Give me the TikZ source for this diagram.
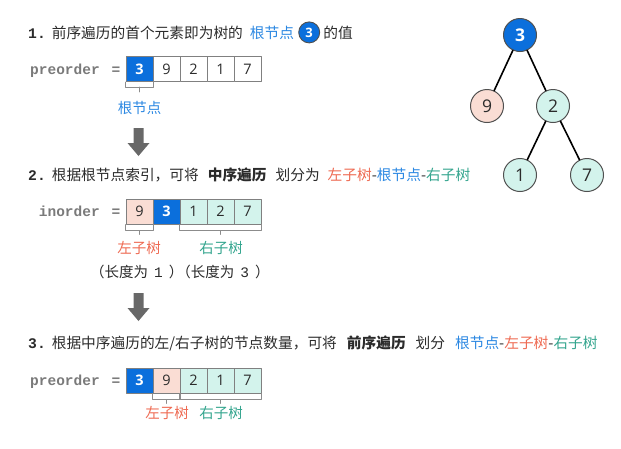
\documentclass[tikz,border=0pt]{standalone}
\usepackage{fontspec}
\setmainfont{Noto Sans CJK SC}
\newfontfamily\codefont{Liberation Mono}
\newfontfamily\numfont{Open Sans}
\usetikzlibrary{positioning}

\definecolor{textdark}{HTML}{2B2B2B}
\definecolor{codegray}{HTML}{7A7A7A}
\definecolor{rootblue}{HTML}{0B6FDC}
\definecolor{leftpink}{HTML}{FADDD4}
\definecolor{rightteal}{HTML}{D3F3EC}
\definecolor{lefttext}{HTML}{EE6A52}
\definecolor{righttext}{HTML}{34A58E}
\definecolor{roottext}{HTML}{2C88E2}
\definecolor{cellborder}{HTML}{808080}
\definecolor{bracketgray}{HTML}{8C8C8C}
\definecolor{nodeborder}{HTML}{505050}
\definecolor{arrowgray}{HTML}{686868}

\tikzset{
  heading/.style={anchor=base west,inner sep=0pt,text=textdark,
    font=\fontsize{14.7}{16}\selectfont},
  codelbl/.style={anchor=base east,inner sep=0pt,text=codegray,
    font=\codefont\bfseries\fontsize{14.5}{16}\selectfont},
  cell/.style={draw=cellborder,line width=0.9pt,fill=white,
    minimum width=27pt,minimum height=25pt,inner sep=0pt,text=textdark,
    font=\numfont\fontsize{14.5}{16}\selectfont},
  rootcell/.style={cell,fill=rootblue,text=white,
    font=\numfont\bfseries\fontsize{14.5}{16}\selectfont},
  leftcell/.style={cell,fill=leftpink},
  rightcell/.style={cell,fill=rightteal},
  bracket/.style={draw=bracketgray,line width=0.8pt},
  sublbl/.style={inner sep=0pt,font=\fontsize{14.5}{16}\selectfont},
  treenode/.style={circle,draw=nodeborder,line width=1pt,minimum size=33pt,
    inner sep=0pt,text=textdark,font=\numfont\fontsize{17.5}{18}\selectfont},
  treeedge/.style={line width=1.6pt,black},
}

\newcommand{\hnum}[1]{{\codefont\bfseries #1}\hspace{6pt}}

\begin{document}
\begin{tikzpicture}[x=1pt,y=-1pt,line cap=round,line join=round]
  \useasboundingbox (0,0) rectangle (621,448);

  % step 1
  \node[heading] (h1) at (28,38) {\hnum{1.}前序遍历的首个元素即为树的\hspace{7pt}\textcolor{roottext}{根节点}};
  \node[circle,fill=rootblue,draw=nodeborder,line width=0.9pt,minimum size=21pt,inner sep=0pt,
    text=white,font=\numfont\bfseries\fontsize{13}{14}\selectfont,right=4pt of h1.east] (hc) {3};
  \node[heading,anchor=west,right=3pt of hc] (h1b) {的值};

  \node[codelbl] (lp1) at (100,74) {preorder};
  \node[codelbl,anchor=base] (ep1) at (116,74) {=};
  \foreach \v/\s [count=\i] in {3/rootcell,9/cell,2/cell,1/cell,7/cell}
    \node[\s] (p\i) at ({112.5+27*\i},69) {\v};
  \coordinate (b1) at ([yshift=-5pt]p1.south);
  \draw[bracket] (p1.south west) |- (b1) -| (p1.south east);
  \draw[bracket] (b1) -- ++(0,5);
  \node[sublbl,text=roottext] (r1) at (139.5,108) {根节点};

  \fill[arrowgray] (133.5,128) -- (143.5,128) -- (143.5,143) -- (149.5,143)
    -- (138.5,156) -- (127.5,143) -- (133.5,143) -- cycle;

  % step 2
  \node[heading] (h2) at (28,180) {\hnum{2.}根据根节点索引，可将\hspace{9pt}{\bfseries 中序遍历}\hspace{9pt}划分为\hspace{8pt}\textcolor{lefttext}{左子树}-\textcolor{roottext}{根节点}-\textcolor{righttext}{右子树}};

  \node[codelbl] (li2) at (100,216) {inorder};
  \node[codelbl,anchor=base] (ei2) at (116,216) {=};
  \foreach \v/\s [count=\i] in {9/leftcell,3/rootcell,1/rightcell,2/rightcell,7/rightcell}
    \node[\s] (i\i) at ({112.5+27*\i},211.5) {\v};
  \coordinate (b2) at ([yshift=-6pt]i1.south);
  \coordinate (b3) at ([yshift=-6pt]i4.south);
  \draw[bracket] (i1.south west) |- (b2) -| (i1.south east);
  \draw[bracket] (b2) -- ++(0,4);
  \draw[bracket] (i3.south west) |- (b3) -| (i5.south east);
  \draw[bracket] (b3) -- ++(0,4);
  \node[sublbl,text=lefttext] (l2) at (139,248) {左子树};
  \node[sublbl,text=righttext] (r2) at (221,248) {右子树};
  \node[sublbl,anchor=west,text=textdark] (n2) at (90,272) {（长度为\hspace{6pt}{\codefont 1}\hspace{6pt}）\hspace{-7pt}（长度为\hspace{6pt}{\codefont 3}\hspace{6pt}）};

  \fill[arrowgray] (133.5,293) -- (143.5,293) -- (143.5,308) -- (149.5,308)
    -- (138.5,321) -- (127.5,308) -- (133.5,308) -- cycle;

  % step 3
  \node[heading] (h3) at (28,348) {\hnum{3.}根据中序遍历的左/右子树的节点数量，可将\hspace{10pt}{\bfseries 前序遍历}\hspace{10pt}划分\hspace{10pt}\textcolor{roottext}{根节点}-\textcolor{lefttext}{左子树}-\textcolor{righttext}{右子树}};

  \node[codelbl] (lp3) at (100,385) {preorder};
  \node[codelbl,anchor=base] (ep3) at (116,385) {=};
  \foreach \v/\s [count=\i] in {3/rootcell,9/leftcell,2/rightcell,1/rightcell,7/rightcell}
    \node[\s] (q\i) at ({112.5+27*\i},380.5) {\v};
  \coordinate (b4) at ([yshift=-6pt]q2.south);
  \coordinate (b5) at ([yshift=-6pt]q4.south);
  \draw[bracket] (q2.south west) |- (b4) -| (q2.south east);
  \draw[bracket] (b4) -- ++(0,4);
  \draw[bracket] (q3.south west) |- (b5) -| (q5.south east);
  \draw[bracket] (b5) -- ++(0,4);
  \node[sublbl,text=lefttext] (l3) at (167,413) {左子树};
  \node[sublbl,text=righttext] (r3) at (221,413) {右子树};

  % tree
  \node[treenode,fill=rootblue,text=white,font=\numfont\bfseries\fontsize{17.5}{18}\selectfont] (t3) at (520,35) {3};
  \node[treenode,fill=leftpink] (t9) at (487,106) {9};
  \node[treenode,fill=rightteal] (t2) at (553,106) {2};
  \node[treenode,fill=rightteal] (t1) at (520,175) {1};
  \node[treenode,fill=rightteal] (t7) at (587,175) {7};
  \draw[treeedge] (t3) -- (t9);
  \draw[treeedge] (t3) -- (t2);
  \draw[treeedge] (t2) -- (t1);
  \draw[treeedge] (t2) -- (t7);
\end{tikzpicture}
\end{document}
